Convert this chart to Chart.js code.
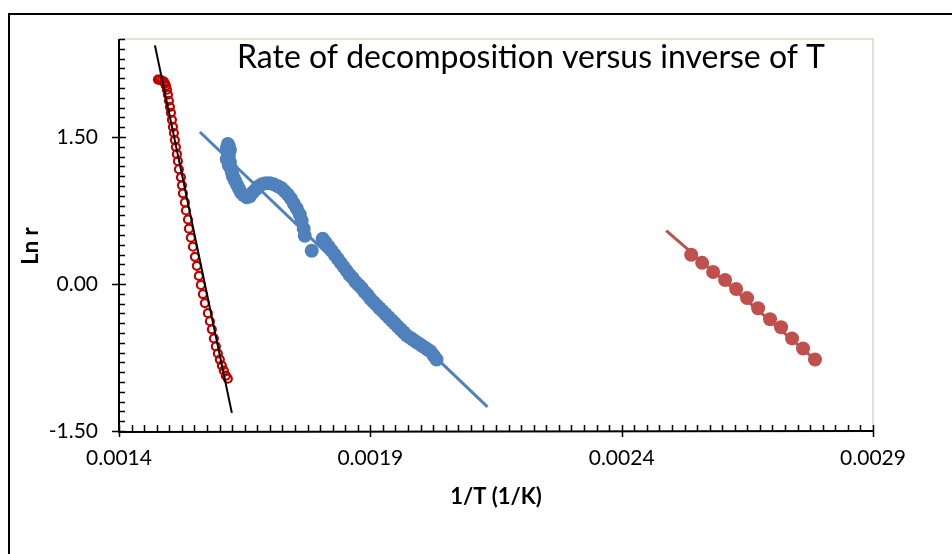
<!DOCTYPE html>
<html>
<head>
<meta charset="utf-8">
<script src="https://cdn.jsdelivr.net/npm/chart.js@4.4.1/dist/chart.umd.min.js"></script>
<style>
html,body{margin:0;padding:0;background:#fff;}
#wrap{width:952px;height:554px;position:relative;}
</style>
</head>
<body>
<div id="wrap"><canvas id="c" width="952" height="554"></canvas></div>
<script>
// ---- Data ----
const chartTitle = 'Rate of decomposition versus inverse of T';
const xTitle = '1/T (1/K)';
const yTitle = 'Ln r';
const xTickValues = [0.0014, 0.0019, 0.0024, 0.0029];
const yTickValues = [-1.5, 0, 1.5];

// red open circles (first run)
const redX = [0.0014775,0.0014814,0.0014854,0.0014894,0.0014914,0.0014934,0.0014954,0.0014973,0.0014993,0.0015013,
  0.0015033,0.0015053,0.0015073,0.0015093,0.0015112,0.0015132,0.0015152,0.0015172,0.0015192,0.0015232,
  0.0015252,0.0015271,0.0015311,0.0015331,0.0015371,0.0015391,0.0015430,0.0015470,0.0015510,0.0015549,
  0.0015589,0.0015629,0.0015669,0.0015708,0.0015768,0.0015808,0.0015847,0.0015887,0.0015927,0.0015967,
  0.0016006,0.0016046,0.0016086,0.0016126,0.0016165];
const redY = [2.086,2.086,2.075,2.065,2.045,2.024,1.983,1.932,1.870,1.808,
  1.747,1.675,1.603,1.541,1.469,1.397,1.325,1.253,1.171,1.089,
  1.007,0.925,0.832,0.750,0.658,0.565,0.473,0.380,0.277,0.185,
  0.082,-0.010,-0.103,-0.195,-0.298,-0.380,-0.462,-0.555,-0.637,-0.709,
  -0.771,-0.832,-0.884,-0.935,-0.966];

// blue filled markers (second run)
const blueX = [0.0016165,0.0016185,0.0016145,0.0016205,0.0016165,0.0016185,0.0016145,0.0016205,0.0016185,0.0016225,
  0.0016245,0.0016265,0.0016304,0.0016344,0.0016384,0.0016424,0.0016483,0.0016543,0.0016602,0.0016662,
  0.0016722,0.0016781,0.0016841,0.0016920,0.0017000,0.0017079,0.0017159,0.0017238,0.0017298,0.0017357,
  0.0017417,0.0017476,0.0017536,0.0017596,0.0017635,0.0017675,0.0017695,0.0017834,0.0018052,0.0018112,
  0.0018172,0.0018231,0.0018291,0.0018350,0.0018410,0.0018470,0.0018529,0.0018589,0.0018648,0.0018708,
  0.0018768,0.0018827,0.0018887,0.0018946,0.0019006,0.0019066,0.0019125,0.0019185,0.0019244,0.0019304,
  0.0019364,0.0019423,0.0019483,0.0019542,0.0019602,0.0019662,0.0019721,0.0019781,0.0019840,0.0019900,
  0.0019960,0.0020019,0.0020079,0.0020138,0.0020198,0.0020258,0.0020317];
const blueY = [1.428,1.408,1.387,1.366,1.336,1.305,1.274,1.243,1.212,1.182,
  1.140,1.099,1.058,1.017,0.976,0.935,0.904,0.884,0.894,0.935,
  0.966,0.997,1.017,1.027,1.027,1.017,0.997,0.976,0.945,0.914,
  0.873,0.822,0.771,0.709,0.647,0.565,0.493,0.339,0.462,0.421,
  0.380,0.339,0.298,0.257,0.216,0.175,0.134,0.092,0.062,0.021,
  -0.010,-0.041,-0.082,-0.113,-0.154,-0.185,-0.216,-0.247,-0.277,-0.308,
  -0.339,-0.370,-0.401,-0.432,-0.462,-0.493,-0.524,-0.545,-0.565,-0.586,
  -0.606,-0.627,-0.647,-0.668,-0.688,-0.729,-0.771];

// brown filled markers (third run)
const brownX = [0.0025383,0.0025601,0.0025820,0.0026058,0.0026277,0.0026495,0.0026714,0.0026952,0.0027171,0.0027389,0.0027608,0.0027846];
const brownY = [0.298,0.216,0.123,0.041,-0.051,-0.144,-0.247,-0.360,-0.442,-0.555,-0.658,-0.771];

// linear trendlines (end points)
const redFitX = [0.0014715, 0.0016245];
const redFitY = [2.435, -1.315];
const blueFitX = [0.0015609, 0.0021330];
const blueFitY = [1.551, -1.253];
const brownFitX = [0.0024886, 0.0027846];
const brownFitY = [0.545, -0.771];

// axis ranges
const xMin = 0.0014, xMax = 0.0029, xMinorStep = 0.000025;
const yMin = -1.5, yMax = 2.5, yMinorStep = 0.1;

const pts = (xs, ys) => xs.map((x, i) => ({x: x, y: ys[i]}));

const FONT = 'Lato, "Open Sans", "DejaVu Sans", sans-serif';

const deco = {
  id: 'deco',
  beforeDraw(chart) {
    const ctx = chart.ctx, a = chart.chartArea;
    ctx.save();
    // outer frame (top and left visible)
    ctx.strokeStyle = '#000';
    ctx.lineWidth = 2;
    ctx.beginPath();
    ctx.moveTo(9, 560); ctx.lineTo(9, 14); ctx.lineTo(960, 14);
    ctx.stroke();
    // plot area border
    ctx.strokeStyle = '#DAD7C5';
    ctx.lineWidth = 1.5;
    ctx.beginPath();
    ctx.moveTo(a.left, a.top); ctx.lineTo(a.right, a.top); ctx.lineTo(a.right, a.bottom);
    ctx.stroke();
    ctx.restore();
  },
  afterDraw(chart) {
    const ctx = chart.ctx, a = chart.chartArea;
    const xs = chart.scales.x, ys = chart.scales.y;
    ctx.save();
    ctx.strokeStyle = '#000';
    ctx.lineWidth = 2;
    // axis lines
    ctx.beginPath();
    ctx.moveTo(a.left, a.top); ctx.lineTo(a.left, a.bottom + 1); ctx.lineTo(a.right + 1, a.bottom);
    ctx.stroke();
    ctx.lineWidth = 1.5;
    ctx.beginPath();
    // x minor ticks (inside)
    const nx = Math.round((xMax - xMin) / xMinorStep);
    for (let k = 0; k <= nx; k++) {
      const px = Math.round(xs.getPixelForValue(xMin + k * xMinorStep)) + 0.5;
      ctx.moveTo(px, a.bottom); ctx.lineTo(px, a.bottom - 6);
    }
    // x major ticks (cross)
    xTickValues.forEach(v => {
      const px = Math.round(xs.getPixelForValue(v)) + 0.5;
      ctx.moveTo(px, a.bottom - 6); ctx.lineTo(px, a.bottom + 6);
    });
    // y minor ticks (inside)
    const ny = Math.round((yMax - yMin) / yMinorStep);
    for (let k = 0; k <= ny; k++) {
      const py = Math.round(ys.getPixelForValue(yMin + k * yMinorStep)) + 0.5;
      ctx.moveTo(a.left, py); ctx.lineTo(a.left + 6, py);
    }
    // y major ticks (cross)
    yTickValues.forEach(v => {
      const py = Math.round(ys.getPixelForValue(v)) + 0.5;
      ctx.moveTo(a.left - 7, py); ctx.lineTo(a.left + 7, py);
    });
    ctx.stroke();

    // chart title inside plot area
    ctx.fillStyle = '#000';
    ctx.font = '32px ' + FONT;
    ctx.textAlign = 'center';
    ctx.textBaseline = 'alphabetic';
    ctx.fillText(chartTitle, 531, 68);

    // axis titles
    ctx.font = 'bold 22px ' + FONT;
    ctx.textBaseline = 'middle';
    ctx.fillText(xTitle, (a.left + a.right) / 2, 497);
    ctx.translate(31, 246);
    ctx.rotate(-Math.PI / 2);
    ctx.fillText(yTitle, 0, 0);
    ctx.restore();
  }
};

new Chart(document.getElementById('c'), {
  type: 'scatter',
  data: {
    datasets: [
      {label: 'Trend 1', data: pts(redFitX, redFitY), showLine: true, borderColor: '#000', borderWidth: 2, pointRadius: 0, order: 0},
      {label: 'Trend 2', data: pts(blueFitX, blueFitY), showLine: true, borderColor: '#4F81BD', borderWidth: 3, pointRadius: 0, order: 1},
      {label: 'Trend 3', data: pts(brownFitX, brownFitY), showLine: true, borderColor: '#C0504D', borderWidth: 3, pointRadius: 0, order: 2},
      {label: 'Run 1', data: pts(redX, redY), pointRadius: 4, pointBorderWidth: 2.2, pointBorderColor: '#C00000', pointBackgroundColor: 'rgba(255,255,255,0)', order: 5},
      {label: 'Run 2', data: pts(blueX, blueY), pointRadius: 7, pointBorderWidth: 0, pointBackgroundColor: '#4F81BD', pointBorderColor: '#4F81BD', order: 4},
      {label: 'Run 3', data: pts(brownX, brownY), pointRadius: 7, pointBorderWidth: 0, pointBackgroundColor: '#C0504D', pointBorderColor: '#C0504D', order: 3}
    ]
  },
  options: {
    responsive: false,
    animation: false,
    events: [],
    layout: {padding: {left: 0, top: 39, right: 79, bottom: 0}},
    plugins: {legend: {display: false}, tooltip: {enabled: false}, title: {display: false}},
    scales: {
      x: {
        type: 'linear', min: xMin, max: xMax,
        grid: {display: false}, border: {display: false},
        afterBuildTicks: s => { s.ticks = xTickValues.map(v => ({value: v})); },
        afterFit: s => { s.height = 554 - 431; },
        ticks: {color: '#000', font: {family: FONT, size: 21}, padding: 7, maxRotation: 0,
          callback: v => Number(v).toFixed(4)}
      },
      y: {
        type: 'linear', min: yMin, max: yMax,
        grid: {display: false}, border: {display: false},
        afterBuildTicks: s => { s.ticks = yTickValues.map(v => ({value: v})); },
        afterFit: s => { s.width = 119; },
        ticks: {color: '#000', font: {family: FONT, size: 21}, padding: 13,
          callback: v => Number(v).toFixed(2)}
      }
    }
  },
  plugins: [deco]
});
</script>
</body>
</html>
